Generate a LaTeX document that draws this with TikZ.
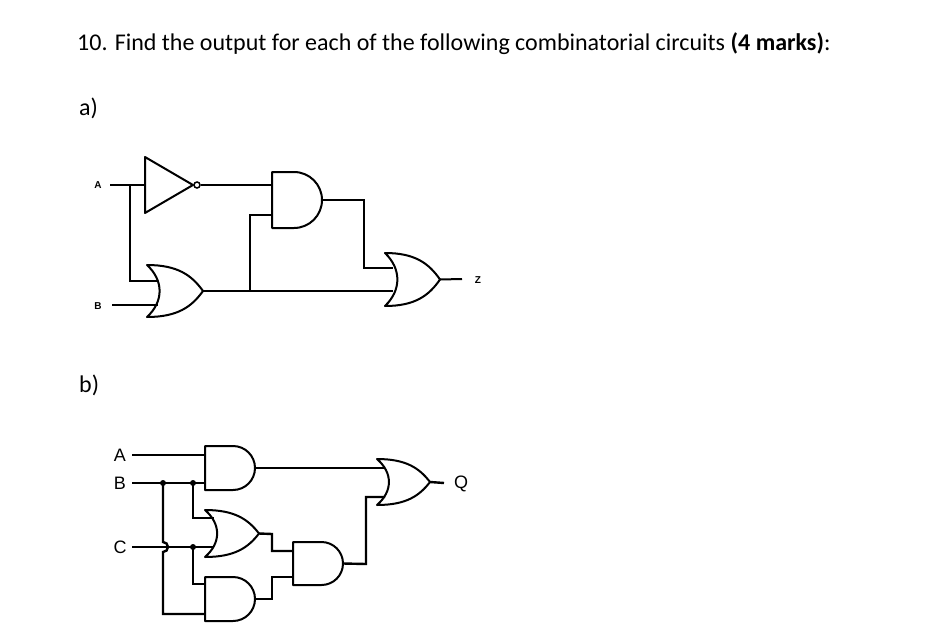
\documentclass[tikz,border=0pt]{standalone}
\usepackage{fontspec}
\setmainfont{Carlito}
\newfontfamily\arial{Liberation Sans}
\newcommand\andg[5]{% name, left, top, bottom, right
  \pgfmathsetmacro\hh{(#4-#3)/2}
  \draw[gate] (#2,#3) -- (#5-\hh,#3) arc[start angle=-90,end angle=90,radius=\hh] -- (#2,#4) -- cycle;
  \coordinate (#1) at (#5,#3+\hh);}
\newcommand\org[5]{% name, back, top, bottom, tip
  \pgfmathsetmacro\mm{(#3+#4)/2}
  \pgfmathsetmacro\ww{#5-#2}
  \pgfmathsetmacro\hg{#4-#3}
  \pgfmathsetmacro\xa{#2+0.55*\ww}
  \pgfmathsetmacro\xb{#5-0.2*\ww}
  \pgfmathsetmacro\ya{#3+0.2*\hg}
  \pgfmathsetmacro\yb{#4-0.2*\hg}
  \pgfmathsetmacro\xc{#2+0.3*\ww}
  \pgfmathsetmacro\yc{#3+0.3*\hg}
  \pgfmathsetmacro\yd{#4-0.3*\hg}
  \draw[gate] (#2,#3) .. controls (\xa,#3) and (\xb,\ya) .. (#5,\mm)
     .. controls (\xb,\yb) and (\xa,#4) .. (#2,#4)
     .. controls (\xc,\yd) and (\xc,\yc) .. (#2,#3) -- cycle;
  \coordinate (#1) at (#5,\mm);}
\begin{document}
\begin{tikzpicture}[x=1pt,y=-1pt,gate/.style={line width=2pt,line join=round},
  w/.style={line width=2pt},wb/.style={line width=2.4pt},
  dot/.style={circle,fill,inner sep=0pt,minimum size=6pt},
  lab/.style={font=\arial\fontsize{10}{10}\selectfont\bfseries,inner sep=0pt},
  labb/.style={font=\arial\fontsize{18}{18}\selectfont,inner sep=0pt},
  big/.style={anchor=west,inner sep=0pt,font=\fontsize{24}{24}\selectfont}]
\useasboundingbox[fill=white] (0,0) rectangle (934,642);
\node[big] (title) at (77,44) {10. Find the output for each of the following combinatorial circuits \textbf{(4 marks)}:};
\node[big] (pa) at (79,108) {a)};
\node[big] (pb) at (79,385) {b)};
% ---- circuit a
\node[lab] (A) at (98,185) {A};
\node[lab] (B) at (98,306) {B};
\node[lab] (Z) at (478,280) {Z};
\draw[gate] (145,157) -- (193,185) -- (145,213) -- cycle;
\node[circle,draw,line width=1.5pt,inner sep=0pt,minimum size=6pt] (bub) at (197,185) {};
\andg{and1}{272}{172}{228}{322}
\org{or1}{147}{265}{317}{203}
\org{or2}{385}{253}{306}{440}
\draw[w] (110,185) -- (145,185);
\draw[w] (130,185) -- (130,281) -- (158,281);
\draw[w] (112,305) -- (158,305);
\draw[w] (bub.east) -- (272,185);
\draw[w] (and1) -- (364,200) -- (364,268) -- (393,268);
\draw[w] (or1) -- (393,291);
\draw[w] (250,291) -- (250,215) -- (272,215);
\draw[w] (or2) -- (462,279);
% ---- circuit b
\node[labb] (A2) at (120,455) {A};
\node[labb] (B2) at (120,483) {B};
\node[labb] (C2) at (120,547) {C};
\node[labb] (Q) at (461,484) {Q};
\andg{g1}{205}{446}{490}{255}
\org{g2}{205}{510}{557}{259}
\andg{g3}{205}{577}{621}{255}
\andg{g4}{293}{542}{585}{343}
\org{g5}{377}{459}{505}{430}
\draw[wb] (132,455) -- (205,455);
\draw[wb] (132,483) -- (205,483);
\draw[wb] (132,547) -- (213,547);
\draw[wb] (163,483) -- (163,542) arc[start angle=-90,end angle=90,radius=5] -- (163,614) -- (205,614);
\draw[wb] (193,483) -- (193,518) -- (214,518);
\draw[wb] (193,547) -- (193,584) -- (205,584);
\draw[wb] (g1) -- (385,468);
\draw[wb] (g2) -- (272,534) -- (272,551) -- (293,551);
\draw[wb] (g3) -- (272,599) -- (272,577) -- (293,577);
\draw[wb] (g4) -- (366,564) -- (366,497) -- (385,497);
\draw[wb] (g5) -- (444,483);
\node[dot] (d1) at (163,483) {};
\node[dot] (d2) at (193,483) {};
\node[dot] (d3) at (193,547) {};
\end{tikzpicture}
\end{document}
